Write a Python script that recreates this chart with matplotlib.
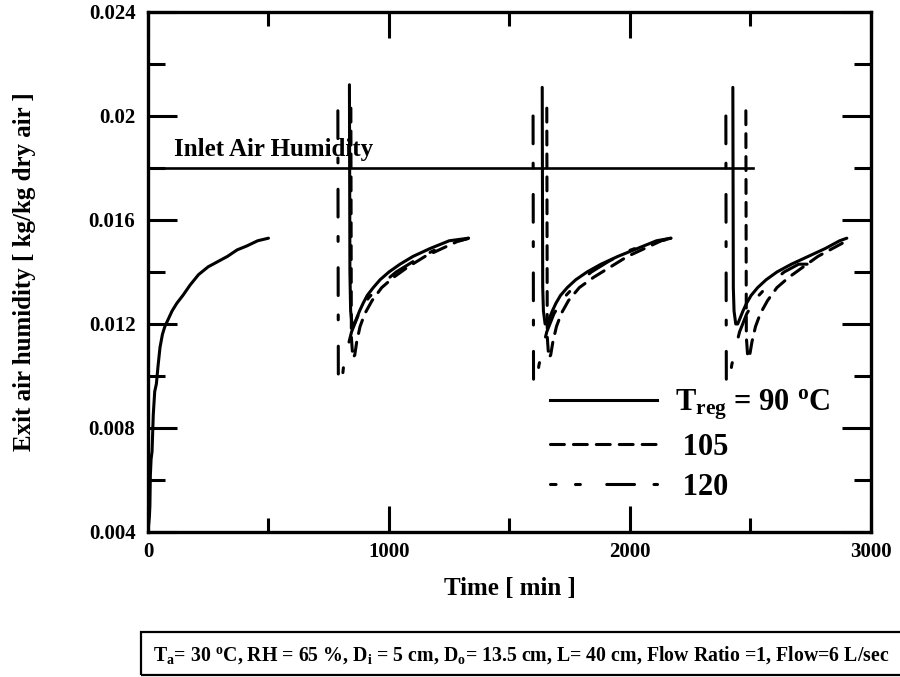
import matplotlib
matplotlib.use("Agg")
import matplotlib.pyplot as plt
from matplotlib.lines import Line2D
from matplotlib.patches import Rectangle
from matplotlib.ticker import FixedLocator, MultipleLocator

plt.rcParams["font.family"] = ["Liberation Serif", "DejaVu Serif"]
plt.rcParams["font.weight"] = "bold"
plt.rcParams["mathtext.fontset"] = "custom"
plt.rcParams["mathtext.rm"] = "Liberation Serif:bold"
plt.rcParams["mathtext.it"] = "Liberation Serif:bold"
plt.rcParams["mathtext.bf"] = "Liberation Serif:bold"
plt.rcParams["lines.scale_dashes"] = False

# exit air humidity [kg/kg dry air] vs time [min], one list per adsorption cycle
t_90 = [
    [0, 2, 4, 6, 8, 10, 13, 17, 22, 28, 35, 42, 50, 60, 70, 85, 100, 120, 145, 175,
     210, 250, 290, 330, 370, 410, 455, 500],
    [836, 838, 841, 848, 856, 865, 878, 893, 910, 935, 963, 1000, 1046, 1100, 1170,
     1250, 1330],
    [1636, 1638, 1641, 1648, 1656, 1665, 1678, 1693, 1712, 1740, 1775, 1822, 1880,
     1950, 2030, 2110, 2170],
    [2427, 2429, 2432, 2439, 2447, 2456, 2469, 2484, 2503, 2530, 2565, 2610, 2670,
     2740, 2810, 2870, 2900],
]
h_90 = [
    [0.0041, 0.0042, 0.0044, 0.0046, 0.0050, 0.0062, 0.0068, 0.0071, 0.0085, 0.0094,
     0.0097, 0.0104, 0.0111, 0.0116, 0.0119, 0.0122, 0.0125, 0.0128, 0.0131, 0.0135,
     0.0139, 0.0142, 0.0144, 0.0146, 0.01485, 0.0150, 0.0152, 0.0153],
    [0.0212, 0.0140, 0.0125, 0.0119, 0.0120, 0.0122, 0.0125, 0.0128, 0.0131, 0.0134,
     0.0137, 0.0140, 0.0143, 0.0146, 0.0149, 0.0152, 0.0153],
    [0.0211, 0.0134, 0.0125, 0.0120, 0.0120, 0.0122, 0.0125, 0.0128, 0.0131, 0.0134,
     0.0137, 0.0140, 0.0143, 0.0146, 0.0149, 0.0152, 0.0153],
    [0.0211, 0.0134, 0.0125, 0.0120, 0.0120, 0.0122, 0.0125, 0.0128, 0.0131, 0.0134,
     0.0137, 0.0140, 0.0143, 0.0146, 0.0149, 0.0152, 0.0153],
]

t_105 = [
    [842, 844, 850, 858, 866, 880, 900, 930, 970, 1020, 1080, 1150, 1220, 1290, 1336],
    [1655, 1657, 1663, 1671, 1680, 1695, 1715, 1745, 1790, 1850, 1920, 1990, 2060, 2130, 2180],
    [2481, 2483, 2489, 2497, 2506, 2521, 2541, 2571, 2610, 2660, 2720, 2780, 2840, 2900],
]
h_105 = [
    [0.0203, 0.0115, 0.0107, 0.0108, 0.0113, 0.0119, 0.0124, 0.0129, 0.0134, 0.0138,
     0.0142, 0.0146, 0.0149, 0.0152, 0.0153],
    [0.0203, 0.0115, 0.0107, 0.0108, 0.0113, 0.0119, 0.0124, 0.0129, 0.0134, 0.0138,
     0.0142, 0.0146, 0.0149, 0.0152, 0.0153],
    [0.0202, 0.0115, 0.0107, 0.0108, 0.0113, 0.0119, 0.0124, 0.0129, 0.0134, 0.0138,
     0.0142, 0.0146, 0.0149, 0.0152],
]

t_120 = [
    [788, 790, 797, 805, 812, 826, 845, 875, 915, 965, 1030, 1100, 1180, 1260, 1330],
    [1598, 1600, 1607, 1615, 1622, 1636, 1655, 1685, 1725, 1775, 1840, 1910, 1990, 2080, 2170],
    [2398, 2400, 2407, 2415, 2422, 2436, 2455, 2485, 2525, 2575, 2640, 2700, 2750],
]
h_120 = [
    [0.0202, 0.0098, 0.0098, 0.0098, 0.0104, 0.0110, 0.0117, 0.0124, 0.0130, 0.0135,
     0.0140, 0.0144, 0.0148, 0.0151, 0.0153],
    [0.0200, 0.0098, 0.0098, 0.0098, 0.0104, 0.0110, 0.0117, 0.0124, 0.0130, 0.0135,
     0.0140, 0.0144, 0.0148, 0.0151, 0.0153],
    [0.0200, 0.0098, 0.0098, 0.0098, 0.0104, 0.0110, 0.0117, 0.0124, 0.0130, 0.0135,
     0.0140, 0.0143, 0.0143],
]

inlet_humidity = 0.018
inlet_span = [0, 2510]

y_ticks = [0.004, 0.008, 0.012, 0.016, 0.020, 0.024]
y_tick_labels = ["0.004", "0.008", "0.012", "0.016", "0.02", "0.024"]
x_ticks = [0, 1000, 2000, 3000]
legend_labels = [r"T$_{\mathrm{reg}}$ = 90 $^{\mathrm{o}}$C", " 105", " 120"]

dash_105 = (0, (10, 6.5))
dash_120 = (0, (20, 14, 3.5, 19))

fig = plt.figure(figsize=(9, 6.77), dpi=100)
ax = fig.add_axes([0.1644, 0.2142, 0.8033, 0.7681])

lw = 2.2
for t, h in zip(t_90, h_90):
    ax.plot(t, h, color="black", lw=lw, ls="-", solid_capstyle="round",
            solid_joinstyle="round")
for t, h in zip(t_105, h_105):
    ax.plot(t, h, color="black", lw=lw, ls=dash_105, dash_capstyle="round")
for t, h in zip(t_120, h_120):
    ax.plot(t, h, color="black", lw=lw, ls=dash_120, dash_capstyle="round")

ax.plot(inlet_span, [inlet_humidity, inlet_humidity], color="black", lw=1.9)
ax.text(110, inlet_humidity + 0.00028, "Inlet Air Humidity", fontsize=18,
        fontweight="bold", ha="left", va="bottom")

ax.set_xlim(0, 3000)
ax.set_ylim(0.004, 0.024)
ax.xaxis.set_major_locator(FixedLocator(x_ticks))
ax.xaxis.set_minor_locator(MultipleLocator(500))
ax.yaxis.set_major_locator(FixedLocator(y_ticks))
ax.yaxis.set_minor_locator(MultipleLocator(0.002))
ax.set_yticklabels(y_tick_labels)
ax.tick_params(axis="both", which="both", direction="in", top=True, right=True,
               width=2.2, labelsize=15)
ax.tick_params(axis="x", which="major", length=19, pad=7)
ax.tick_params(axis="x", which="minor", length=10)
ax.tick_params(axis="y", which="major", length=21, pad=9)
ax.tick_params(axis="y", which="minor", length=12)
for lab in ax.get_xticklabels() + ax.get_yticklabels():
    lab.set_fontweight("bold")
for spine in ax.spines.values():
    spine.set_linewidth(2.4)

ax.set_xlabel("Time [ min ]", fontsize=18, fontweight="bold", labelpad=11)
ax.set_ylabel("Exit air humidity [ kg/kg dry air ]", fontsize=18, fontweight="bold",
              labelpad=38)

# legend keys: the dash-dot key starts part-way into its pattern
handles = [
    Line2D([], [], color="black", lw=lw, ls="-"),
    Line2D([], [], color="black", lw=lw, ls=dash_105, dash_capstyle="round"),
    Line2D([], [], color="black", lw=lw, ls=(16, (20, 14, 3.5, 19)),
           dash_capstyle="round"),
]
ax.legend(handles, legend_labels, loc="center left", bbox_to_anchor=(0.556, 0.168),
          frameon=False, handlelength=3.5, handletextpad=0.6, labelspacing=0.35,
          borderpad=0, borderaxespad=0, prop={"weight": "bold", "size": 22})

# operating conditions box under the plot
fig.patches.append(Rectangle((0.157, 0.003), 0.86, 0.064, transform=fig.transFigure,
                             fill=False, lw=1.6, ec="black"))
fig.text(0.579, 0.033,
         r"T$_{\mathrm{a}}$= 30 $^{\mathrm{o}}$C, RH = 65 %, D$_{\mathrm{i}}$ = 5 cm, "
         r"D$_{\mathrm{o}}$= 13.5 cm, L= 40 cm, Flow Ratio =1, Flow=6 L/sec",
         ha="center", va="center", fontsize=14.3, fontweight="bold")

fig.savefig("out.png", dpi=100)
